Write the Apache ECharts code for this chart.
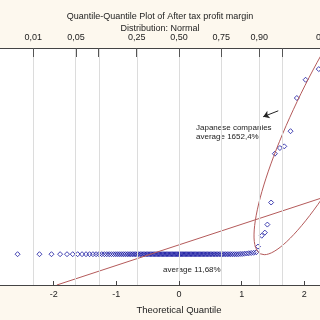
<!DOCTYPE html>
<html>
<head>
<meta charset="utf-8">
<script src="https://cdn.jsdelivr.net/npm/echarts@6/dist/echarts.min.js"></script>
<style>
  html, body { margin: 0; padding: 0; }
  #chart { width: 320px; height: 320px; }
</style>
</head>
<body>
<div id="chart"></div>
<script>
// theoretical quantiles of the sample
const flatX = [
  -2.576, -2.227, -2.035, -1.897, -1.787, -1.696, -1.617, -1.547, -1.484, -1.427,
  -1.373, -1.323, -1.277, -1.233, -1.191, -1.152, -1.114, -1.078, -1.042, -1.008,
  -0.976, -0.944, -0.913, -0.883, -0.854, -0.825, -0.797, -0.770, -0.743, -0.717,
  -0.692, -0.667, -0.642, -0.617, -0.593, -0.570, -0.547, -0.523, -0.501, -0.478,
  -0.456, -0.434, -0.412, -0.390, -0.369, -0.348, -0.327, -0.306, -0.285, -0.264,
  -0.243, -0.223, -0.202, -0.182, -0.161, -0.141, -0.120, -0.100, -0.080, -0.060,
  -0.040, -0.020, 0.000, 0.020, 0.040, 0.060, 0.080, 0.100, 0.120, 0.141,
  0.161, 0.182, 0.202, 0.223, 0.243, 0.264, 0.285, 0.306, 0.327, 0.348,
  0.369, 0.390, 0.412, 0.434, 0.456, 0.478, 0.501, 0.523, 0.547, 0.570,
  0.593, 0.617, 0.642, 0.667, 0.692, 0.717, 0.743, 0.770, 0.797, 0.825,
  0.854, 0.883, 0.913, 0.944, 0.976, 1.008, 1.042, 1.078, 1.114, 1.152,
  1.191, 1.233
]
const flatY = [
  13, 13, 13, 13, 13, 13, 13, 13, 13, 13,
  13, 13, 13, 13, 13, 13, 13, 13, 13, 13,
  13, 13, 13, 13, 13, 13, 13, 13, 13, 13,
  13, 13, 13, 13, 13, 13, 13, 13, 13, 13,
  13, 13, 13, 13, 13, 13, 13, 13, 13, 13,
  13, 13, 13, 13, 13, 13, 13, 13, 13, 13,
  13, 13, 13, 13, 13, 13, 13, 13, 13, 13,
  13, 13, 13, 13, 13, 13, 13, 13, 13, 13,
  13, 13, 13, 13, 13, 13, 13, 13, 13, 13,
  13, 13, 13, 13, 13, 13, 13, 13, 13, 13,
  13, 13, 13, 13, 13.1, 13.1, 13.2, 13.3, 13.4, 13.5,
  13.6, 13.8
]
// Japanese companies
const japanX = [1.26, 1.32, 1.37, 1.41, 1.47, 1.53, 1.61, 1.68, 1.78, 1.88, 2.02, 2.23]
const japanY = [16.2, 20.8, 22.1, 25.5, 34.8, 55.4, 57.8, 58.5, 64.9, 78.9, 86.6, 91.1]

// straight reference line
const refLineX = [-1.95, 2.7]
const refLineY = [0, 40.4]

// ellipse round the Japanese companies: centre and two conjugate half-axes
const ellCenter = [2.52, 77.2]
const ellAxisA = [1.22, 64.05]
const ellAxisB = [0.512, -6.84]

// top probability axis
const probTicks = [0.01, 0.05, 0.10, 0.25, 0.50, 0.75, 0.90, 0.95, 0.99]
const probTickZ = [-2.326, -1.645, -1.2816, -0.6745, 0, 0.6745, 1.2816, 1.645, 2.326]
const probLabels = ['0,01', '0,05', '', '0,25', '0,50', '0,75', '0,90', '', '0,99']

const labelZ = probTickZ.filter((z, i) => probLabels[i] !== '')

const font = 'Liberation Sans, Arial, sans-serif'
const chart = echarts.init(document.getElementById('chart'))

const ellipse = []
for (let k = 0; k <= 120; k++) {
  const t = (k / 120) * Math.PI * 2
  ellipse.push([
    ellCenter[0] + ellAxisA[0] * Math.cos(t) + ellAxisB[0] * Math.sin(t),
    ellCenter[1] + ellAxisA[1] * Math.cos(t) + ellAxisB[1] * Math.sin(t)
  ])
}

const option = {
  backgroundColor: '#fdf8ee',
  animation: false,
  textStyle: { fontFamily: font },
  title: {
    text: 'Quantile-Quantile Plot of After tax profit margin',
    subtext: 'Distribution: Normal',
    left: 'center',
    top: 7,
    itemGap: 3,
    textStyle: { fontSize: 9, fontWeight: 'normal', color: '#222', fontFamily: font },
    subtextStyle: { fontSize: 9, color: '#222', fontFamily: font }
  },
  grid: {
    left: -9,
    right: -47,
    top: 48,
    bottom: 35,
    containLabel: false,
    outerBoundsMode: 'none',
    show: true,
    backgroundColor: '#ffffff',
    borderWidth: 0
  },
  xAxis: [
    {
      type: 'value',
      position: 'bottom',
      min: -3,
      max: 3,
      interval: 1,
      z: 10,
      axisLine: { onZero: false, lineStyle: { color: '#444' } },
      axisTick: { inside: true, length: 4, lineStyle: { color: '#444' } },
      axisLabel: { fontSize: 9, color: '#222', margin: 5 },
      splitLine: { show: false },
      name: 'Theoretical Quantile',
      nameLocation: 'middle',
      nameGap: 20,
      nameTextStyle: { fontSize: 9.5, color: '#222' }
    },
    {
      type: 'value',
      position: 'top',
      min: -3,
      max: 3,
      z: 10,
      axisLine: { onZero: false, lineStyle: { color: '#444' } },
      axisTick: { inside: true, length: 9, customValues: probTickZ, lineStyle: { color: '#555' } },
      axisLabel: {
        fontSize: 9,
        color: '#222',
        margin: 6,
        hideOverlap: false,
        showMaxLabel: true,
        customValues: labelZ,
        formatter: (v) => {
          const i = probTickZ.findIndex((z) => Math.abs(z - v) < 1e-6)
          return i >= 0 ? probLabels[i] : ''
        }
      },
      splitLine: { show: false }
    }
  ],
  yAxis: { type: 'value', min: 0, max: 100, show: false },
  graphic: [
    { type: 'text', left: 196, top: 123, style: { text: 'Japanese companies\naverage 1652,4%', fontSize: 8, lineHeight: 9, fill: '#222', fontFamily: font } },
    { type: 'text', left: 163, top: 266, style: { text: 'average 11,68%', fontSize: 8, fill: '#222', fontFamily: font } }
  ],
  series: [
    {
      type: 'line',
      data: ellipse,
      showSymbol: false,
      silent: true,
      lineStyle: { color: '#b45a5a', width: 1 },
      markLine: {
        silent: true,
        symbol: 'none',
        label: { show: false },
        lineStyle: { color: '#dcdcdc', width: 1, type: 'solid' },
        data: probTickZ.map((z) => ({ xAxis: z }))
      }
    },
    {
      type: 'line',
      data: refLineX.map((x, i) => [x, refLineY[i]]),
      showSymbol: false,
      silent: true,
      lineStyle: { color: '#b45a5a', width: 1 },
      markLine: {
        silent: true,
        symbol: ['none', 'arrow'],
        symbolSize: 6,
        label: { show: false },
        lineStyle: { color: '#222', width: 1, type: 'solid' },
        data: [[{ coord: [1.584, 73.5] }, { coord: [1.344, 71.0] }]]
      }
    },
    {
      type: 'scatter',
      data: flatX.map((x, i) => [x, flatY[i]]).concat(japanX.map((x, i) => [x, japanY[i]])),
      symbol: 'diamond',
      symbolSize: 5,
      itemStyle: { color: 'rgba(0,0,0,0)', borderColor: '#1515a0', borderWidth: 1 }
    }
  ]
}
chart.setOption(option)
</script>
</body>
</html>
